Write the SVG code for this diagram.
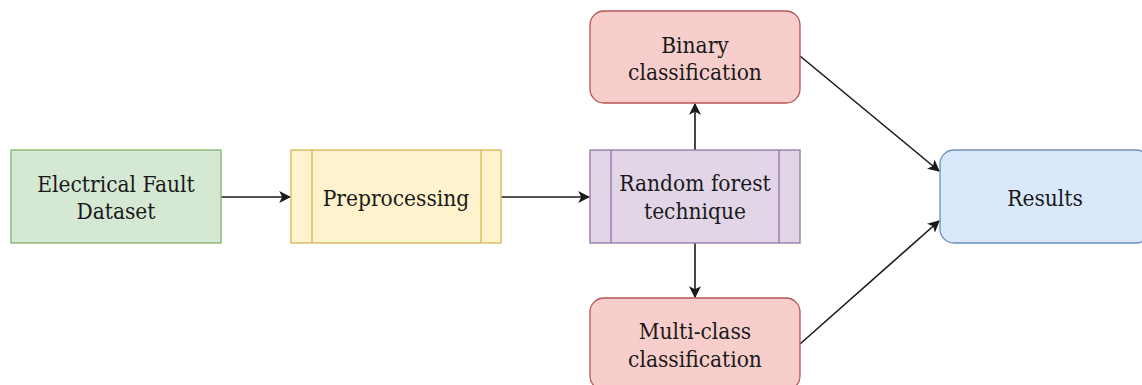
<svg xmlns="http://www.w3.org/2000/svg" width="1142" height="385" viewBox="0 0 1142 385">
<defs>
<style>
.t{font-family:'DejaVu Serif Condensed','DejaVu Serif',serif;font-stretch:condensed;font-size:22.5px;fill:#1a1a1a;text-anchor:middle}
.e{fill:none;stroke:#1a1a1a;stroke-width:1.6}
</style>
<marker id="a" viewBox="0 0 10 10" refX="9" refY="5" markerWidth="12" markerHeight="12" markerUnits="userSpaceOnUse" orient="auto"><path d="M0,0 L10,5 L0,10 L2.5,5 Z" fill="#1a1a1a"/></marker>
</defs>
<rect width="1142" height="385" fill="#fff"/>
<g id="connectors">
<line class="e" x1="221" y1="197" x2="290" y2="197" marker-end="url(#a)"/>
<line class="e" x1="501" y1="197" x2="589" y2="197" marker-end="url(#a)"/>
<line class="e" x1="695" y1="150" x2="695" y2="104" marker-end="url(#a)"/>
<line class="e" x1="695" y1="243" x2="695" y2="297" marker-end="url(#a)"/>
<line class="e" x1="800" y1="56" x2="939" y2="171" marker-end="url(#a)"/>
<line class="e" x1="800" y1="344" x2="939" y2="221" marker-end="url(#a)"/>
</g>
<g id="dataset">
<rect x="11" y="150" width="210" height="93" fill="#d5e8d4" stroke="#82b366" stroke-width="1.3"/>
<text class="t" x="116" y="191.5">Electrical Fault</text>
<text class="t" x="116" y="219">Dataset</text>
</g>
<g id="preprocessing">
<rect x="291" y="150" width="210" height="93" fill="#fff2cc" stroke="#d6b656" stroke-width="1.3"/>
<line x1="312" y1="150" x2="312" y2="243" stroke="#d6b656" stroke-width="1.3"/>
<line x1="481" y1="150" x2="481" y2="243" stroke="#d6b656" stroke-width="1.3"/>
<text class="t" x="396" y="205.5">Preprocessing</text>
</g>
<g id="randomforest">
<rect x="590" y="150" width="210" height="93" fill="#e1d5e7" stroke="#9673a6" stroke-width="1.3"/>
<line x1="611" y1="150" x2="611" y2="243" stroke="#9673a6" stroke-width="1.3"/>
<line x1="779" y1="150" x2="779" y2="243" stroke="#9673a6" stroke-width="1.3"/>
<text class="t" x="695" y="191">Random forest</text>
<text class="t" x="695" y="218.5">technique</text>
</g>
<g id="binary">
<rect x="590" y="11" width="210" height="92" rx="14" fill="#f8cecc" stroke="#b85450" stroke-width="1.3"/>
<text class="t" x="695" y="52.5">Binary</text>
<text class="t" x="695" y="79.5">classification</text>
</g>
<g id="multiclass">
<rect x="590" y="298" width="210" height="92" rx="14" fill="#f8cecc" stroke="#b85450" stroke-width="1.3"/>
<text class="t" x="695" y="339">Multi-class</text>
<text class="t" x="695" y="366.5">classification</text>
</g>
<g id="results">
<rect x="940" y="150" width="210" height="93" rx="14" fill="#dae8fc" stroke="#6c8ebf" stroke-width="1.3"/>
<text class="t" x="1045" y="205.5">Results</text>
</g>
</svg>
